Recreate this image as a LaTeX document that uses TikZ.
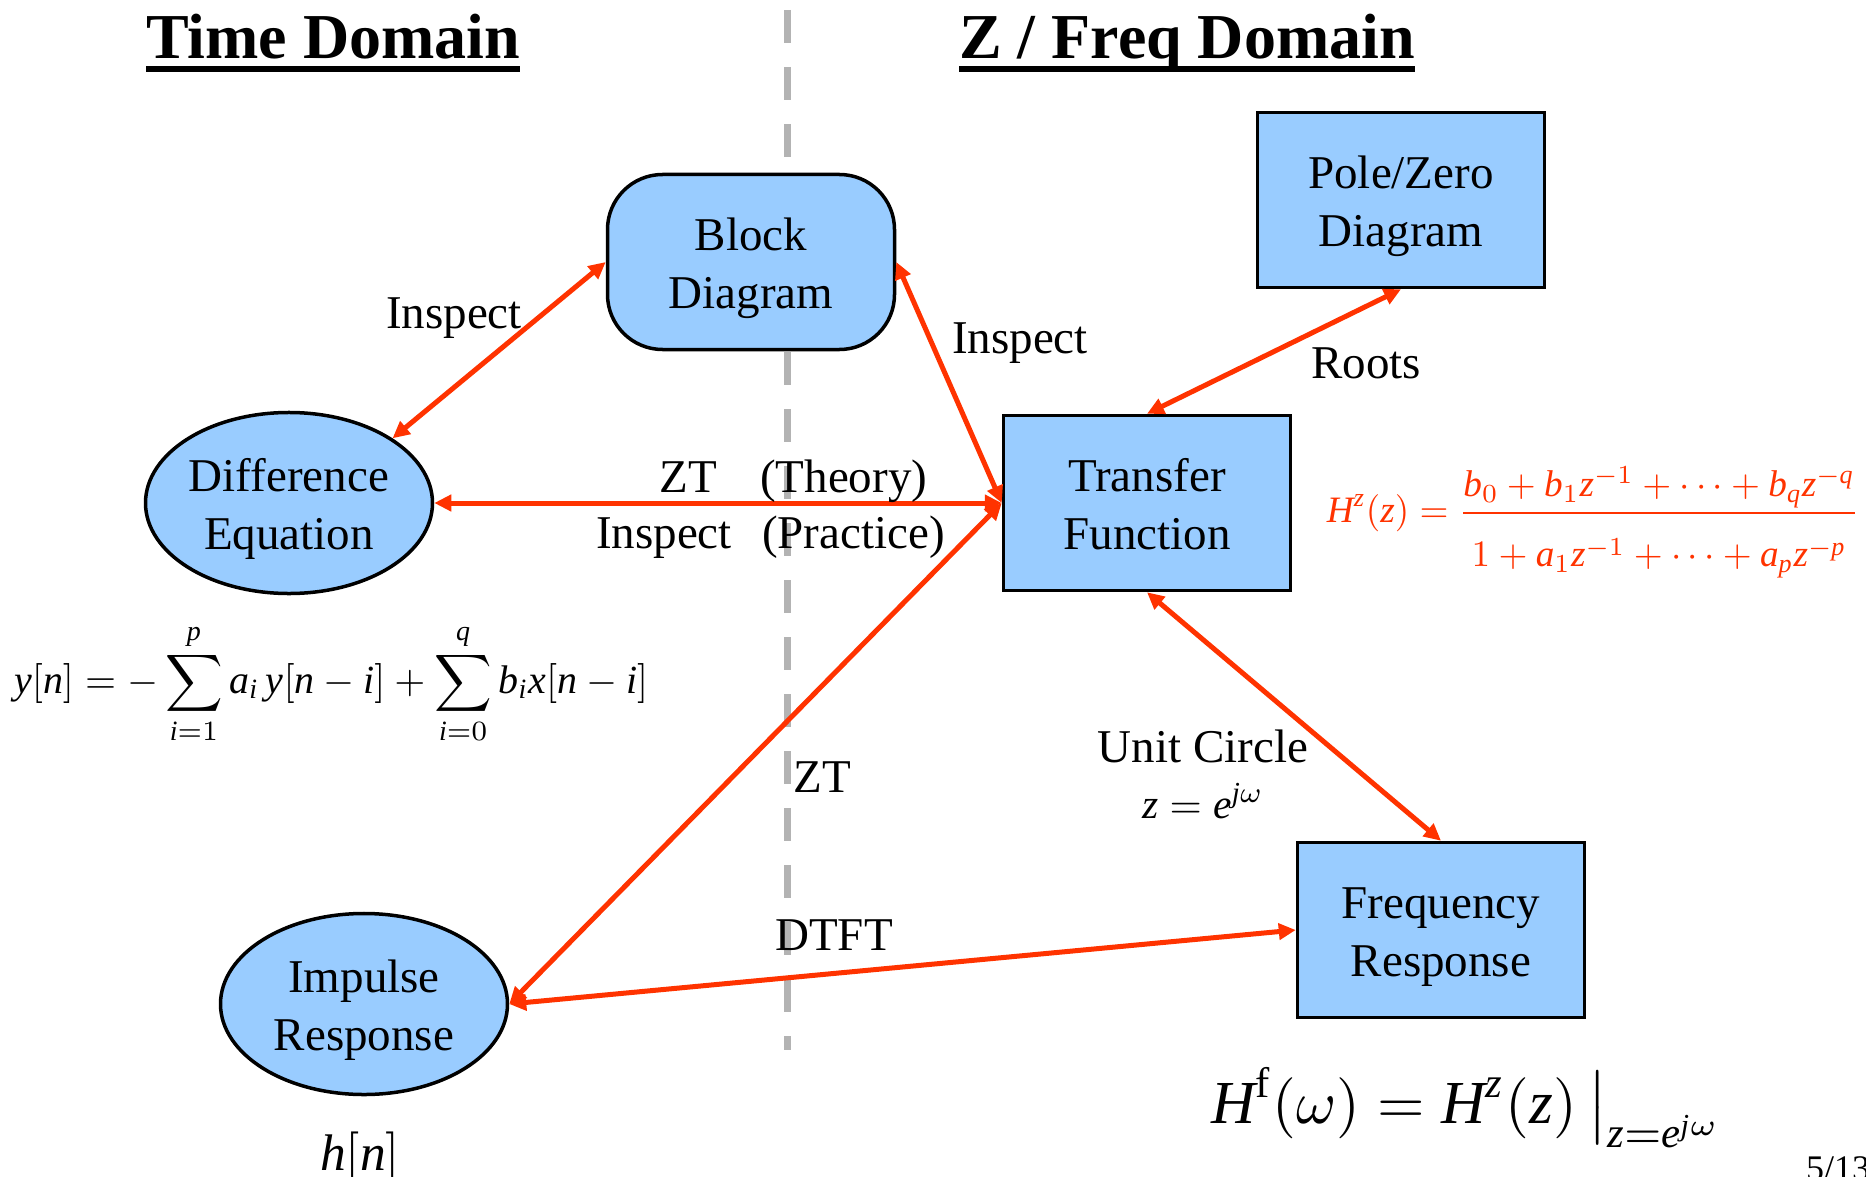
\documentclass[tikz,border=0pt]{standalone}
\usepackage{amsmath}
\usepackage{fontspec}
\setmainfont{Liberation Serif}
\DeclareSymbolFont{cmletters}{OML}{cmm}{m}{it}
\DeclareSymbolFont{letters}{TU}{\rmdefault}{m}{it}
\DeclareMathSymbol{\omega}{\mathord}{cmletters}{"21}
\usetikzlibrary{arrows.meta,shapes.geometric}
\definecolor{arrred}{HTML}{FF3300}
\definecolor{boxblue}{HTML}{99CCFF}
\definecolor{dashgray}{HTML}{B3B3B3}
\newcommand{\bdfont}{\fontsize{47}{58}\selectfont}
\newcommand{\ttlfont}{\fontsize{64}{70}\selectfont\bfseries}
\newcommand{\twoline}[2]{\raisebox{0pt}[\dimexpr\height+12pt\relax][\depth]{\begin{tabular}{@{}c@{}}#1\\#2\end{tabular}}}
\tikzset{
  blk/.style={draw=black, line width=3.5pt, fill=boxblue, minimum width=287pt,
    minimum height=175pt, align=center, inner sep=0pt, font=\bdfont},
  sqbox/.style={blk, rectangle},
  rbox/.style={blk, rectangle, rounded corners=55pt},
  ebox/.style={blk, ellipse},
  lbl/.style={inner sep=0pt, font=\bdfont, anchor=base},
  ttl/.style={inner sep=0pt, font=\ttlfont, anchor=base west},
  uline/.style={line width=6pt},
  link/.style={draw=arrred, line width=5pt,
    {Triangle[length=17pt,width=16pt]}-{Triangle[length=17pt,width=16pt]}},
  divider/.style={draw=dashgray, line width=7pt, dash pattern=on 33pt off 24pt},
  frm/.style={inner sep=0pt}
}
\begin{document}
\begin{tikzpicture}[x=1pt,y=-1pt]
\useasboundingbox (0,0) rectangle (1866,1177);
% divider
\coordinate (dtop) at (787,10);
\coordinate (dbot) at (787,1050);
\draw[divider] (dtop) -- (dbot);
% titles
\node[ttl] (t1) at (146,59) {Time Domain};
\node[ttl] (t2) at (959,59) {Z / Freq Domain};
\draw[uline] ([yshift=-10pt]t1.base west) -- ([yshift=-10pt]t1.base east);
\draw[uline] ([yshift=-10pt]t2.base west) -- ([yshift=-10pt]t2.base east);
% nodes
\node[rbox] (bd) at (751,262) {\twoline{Block}{Diagram}};
\node[sqbox] (pz) at (1401,200) {\twoline{Pole/Zero}{Diagram}};
\node[sqbox] (tf) at (1147,503) {\twoline{Transfer}{Function}};
\node[ebox] (de) at (289,503) {\twoline{Difference}{Equation}};
\node[ebox] (ir) at (364,1004) {\twoline{Impulse\hspace{14pt}}{Response}};
\node[sqbox] (fr) at (1441,930) {\twoline{Frequency}{Response}};
% connectors
\draw[link] (de.32) -- (bd.west);
\draw[link] (bd.east) -- (tf.west);
\draw[link] (de.east) -- (tf.west);
\draw[link] (tf.west) -- (ir.east);
\draw[link] (ir.east) -- (fr.west);
\draw[link] (pz.south) -- (tf.north);
\draw[link] (tf.south) -- (fr.north);
% labels
\node[lbl] (l1) at (454,328) {Inspect};
\node[lbl] (l2) at (1020,353) {Inspect};
\node[lbl] (l3) at (1366,378) {Roots};
\node[lbl, anchor=base east] (l4) at (717,492) {ZT};
\node[lbl, anchor=base west] (l5) at (760,492) {(Theory)};
\node[lbl, anchor=base east] (l6) at (732,548) {Inspect};
\node[lbl, anchor=base west] (l7) at (762,548) {(Practice)};
\node[lbl] (l8) at (822,792) {ZT};
\node[lbl] (l9) at (834,950) {DTFT};
\node[lbl] (l10) at (1203,762) {Unit Circle};
\node[frm, anchor=base] (l11) at (1203,818) {\resizebox{122pt}{!}{$z=e^{j\omega}$}};
% formulas
\node[frm, anchor=center] (fhz) at (1593,522) {\color{arrred}\resizebox{532pt}{!}{$\displaystyle H^{z}(z)=\frac{b_0+b_1z^{-1}+\cdots+b_qz^{-q}\rule[-3pt]{0pt}{1pt}}{\rule{0pt}{13pt}1+a_1z^{-1}+\cdots+a_pz^{-p}}$}};
\node[frm, anchor=base west] (fy) at (14,693) {\resizebox{634pt}{!}{$\displaystyle y[n]=-\sum_{i=1}^{p}a_i\,y[n-i]+\sum_{i=0}^{q}b_ix[n-i]$}};
\node[frm, anchor=base west] (fhf) at (1211,1123) {\resizebox{512pt}{!}{$\displaystyle H^{\mathrm{f}}(\omega)=H^{z}(z)\,\big|_{z=e^{j\omega}}$}};
\node[frm, anchor=base] (hn) at (360,1170) {\resizebox{80pt}{!}{$h[n]$}};
\node[inner sep=0pt, anchor=base west, font=\fontsize{36}{40}\selectfont] (pg) at (1806,1180) {5/13};
\end{tikzpicture}
\end{document}
